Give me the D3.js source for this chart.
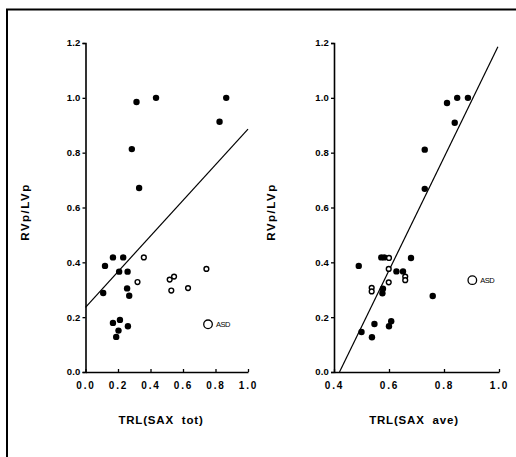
<!DOCTYPE html>
<html><head><meta charset="utf-8">
<script src="https://cdn.jsdelivr.net/npm/d3@7"></script>
<style>body{margin:0;background:#fff}svg{display:block}</style>
</head><body>
<script>
// Left panel: TRL(SAX tot) vs RVp/LVp
const leftFilledX = [0.314,0.434,0.866,0.825,0.285,0.33,0.169,0.232,0.12,0.207,0.259,0.109,0.256,0.269,0.169,0.212,0.203,0.261,0.189];
const leftFilledY = [0.985,1.0,1.0,0.913,0.813,0.671,0.418,0.418,0.387,0.366,0.366,0.288,0.305,0.278,0.179,0.19,0.151,0.167,0.128];
const leftOpenX = [0.359,0.32,0.518,0.545,0.528,0.744,0.631];
const leftOpenY = [0.418,0.328,0.337,0.348,0.297,0.376,0.306];
const leftASD = [0.754,0.174];
const leftLine = [[0,0.236],[1.0,0.886]];
// Right panel: TRL(SAX ave) vs RVp/LVp
const rightFilledX = [0.811,0.848,0.887,0.839,0.73,0.73,0.49,0.572,0.583,0.68,0.627,0.651,0.578,0.576,0.759,0.5,0.547,0.538,0.608,0.6];
const rightFilledY = [0.981,1.0,1.0,0.909,0.811,0.668,0.387,0.418,0.418,0.416,0.367,0.367,0.304,0.287,0.277,0.146,0.175,0.127,0.185,0.167];
const rightOpenX = [0.6,0.599,0.599,0.537,0.537,0.659,0.659];
const rightOpenY = [0.416,0.376,0.327,0.307,0.294,0.348,0.335];
const rightASD = [0.903,0.335];
const rightLine = [[0.42,0],[0.996,1.186]];
const yTicks = [0.0,0.2,0.4,0.6,0.8,1.0,1.2];
const leftXTicks = [0.0,0.2,0.4,0.6,0.8,1.0];
const rightXTicks = [0.4,0.6,0.8,1.0];
const yTitle = "RVp/LVp";
const leftXTitle = "TRL(SAX\u00a0\u00a0tot)";
const rightXTitle = "TRL(SAX\u00a0\u00a0ave)";

const W=516,H=457;
const svg=d3.select("body").append("svg").attr("width",W).attr("height",H);
const font="'Liberation Sans', Arial, Helvetica, sans-serif";

// frame
svg.append("path").attr("d",`M7,${H} L7,9.5 L${W},9.5`).attr("fill","none").attr("stroke","#000").attr("stroke-width",2);

const y=d3.scaleLinear().domain([0,1.2]).range([372,43]);

function panel(o){
  const x=d3.scaleLinear().domain(o.xdom).range(o.xr);
  const g=svg.append("g");
  const ya=g.append("g").attr("transform",`translate(${o.xr[0]},0)`)
    .call(d3.axisLeft(y).tickValues(yTicks).tickFormat(d3.format(".1f")).tickSize(3).tickPadding(2));
  const xa=g.append("g").attr("transform",`translate(0,372)`)
    .call(d3.axisBottom(x).tickValues(o.xticks).tickFormat(d3.format(".1f")).tickSizeInner(-3).tickSizeOuter(0).tickPadding(10));
  [ya,xa].forEach(a=>{
    a.select(".domain").attr("stroke","#000").attr("stroke-width",1.6);
    a.selectAll(".tick line").attr("stroke","#000").attr("stroke-width",1.3);
    a.selectAll("text").attr("font-family",font).attr("font-weight","bold").attr("font-size",9.5).attr("fill","#000");
  });
  xa.selectAll("text").attr("letter-spacing","1.8px").attr("font-size",10);
  ya.selectAll("text").attr("letter-spacing","0.2px").attr("dy","0.3em");
  // regression line
  g.append("line").attr("x1",x(o.line[0][0])).attr("y1",y(o.line[0][1]))
    .attr("x2",x(o.line[1][0])).attr("y2",y(o.line[1][1])).attr("stroke","#000").attr("stroke-width",1.2);
  // filled
  g.selectAll(".f").data(d3.range(o.fx.length)).join("circle")
    .attr("cx",i=>x(o.fx[i])).attr("cy",i=>y(o.fy[i])).attr("r",3.2).attr("fill","#000");
  g.selectAll(".o").data(d3.range(o.ox.length)).join("circle")
    .attr("cx",i=>x(o.ox[i])).attr("cy",i=>y(o.oy[i])).attr("r",2.4).attr("fill","#fff").attr("stroke","#000").attr("stroke-width",1.4);
  g.append("circle").attr("cx",x(o.asd[0])).attr("cy",y(o.asd[1])).attr("r",4.3)
    .attr("fill","#fff").attr("stroke","#000").attr("stroke-width",1.3);
  g.append("text").attr("x",x(o.asd[0])+8).attr("y",y(o.asd[1])+3).text("ASD")
    .attr("font-family",font).attr("font-size",7.5).attr("letter-spacing","-0.5px").attr("fill","#000");
  // titles
  g.append("text").attr("transform",`translate(${o.ytx},212) rotate(-90)`).attr("text-anchor","middle")
    .attr("font-family",font).attr("font-weight","bold").attr("font-size",11.5).attr("letter-spacing","1.5px").text(yTitle);
  g.append("text").attr("x",o.xtx).attr("y",424).attr("text-anchor","middle")
    .attr("font-family",font).attr("font-weight","bold").attr("font-size",11.5).attr("letter-spacing","0.8px").text(o.xtitle);
}
panel({xdom:[0,1],xr:[85.5,248],xticks:leftXTicks,fx:leftFilledX,fy:leftFilledY,ox:leftOpenX,oy:leftOpenY,asd:leftASD,line:leftLine,ytx:29,xtx:161,xtitle:leftXTitle});
panel({xdom:[0.4,1],xr:[334,499],xticks:rightXTicks,fx:rightFilledX,fy:rightFilledY,ox:rightOpenX,oy:rightOpenY,asd:rightASD,line:rightLine,ytx:275,xtx:414,xtitle:rightXTitle});
</script>
</body></html>
